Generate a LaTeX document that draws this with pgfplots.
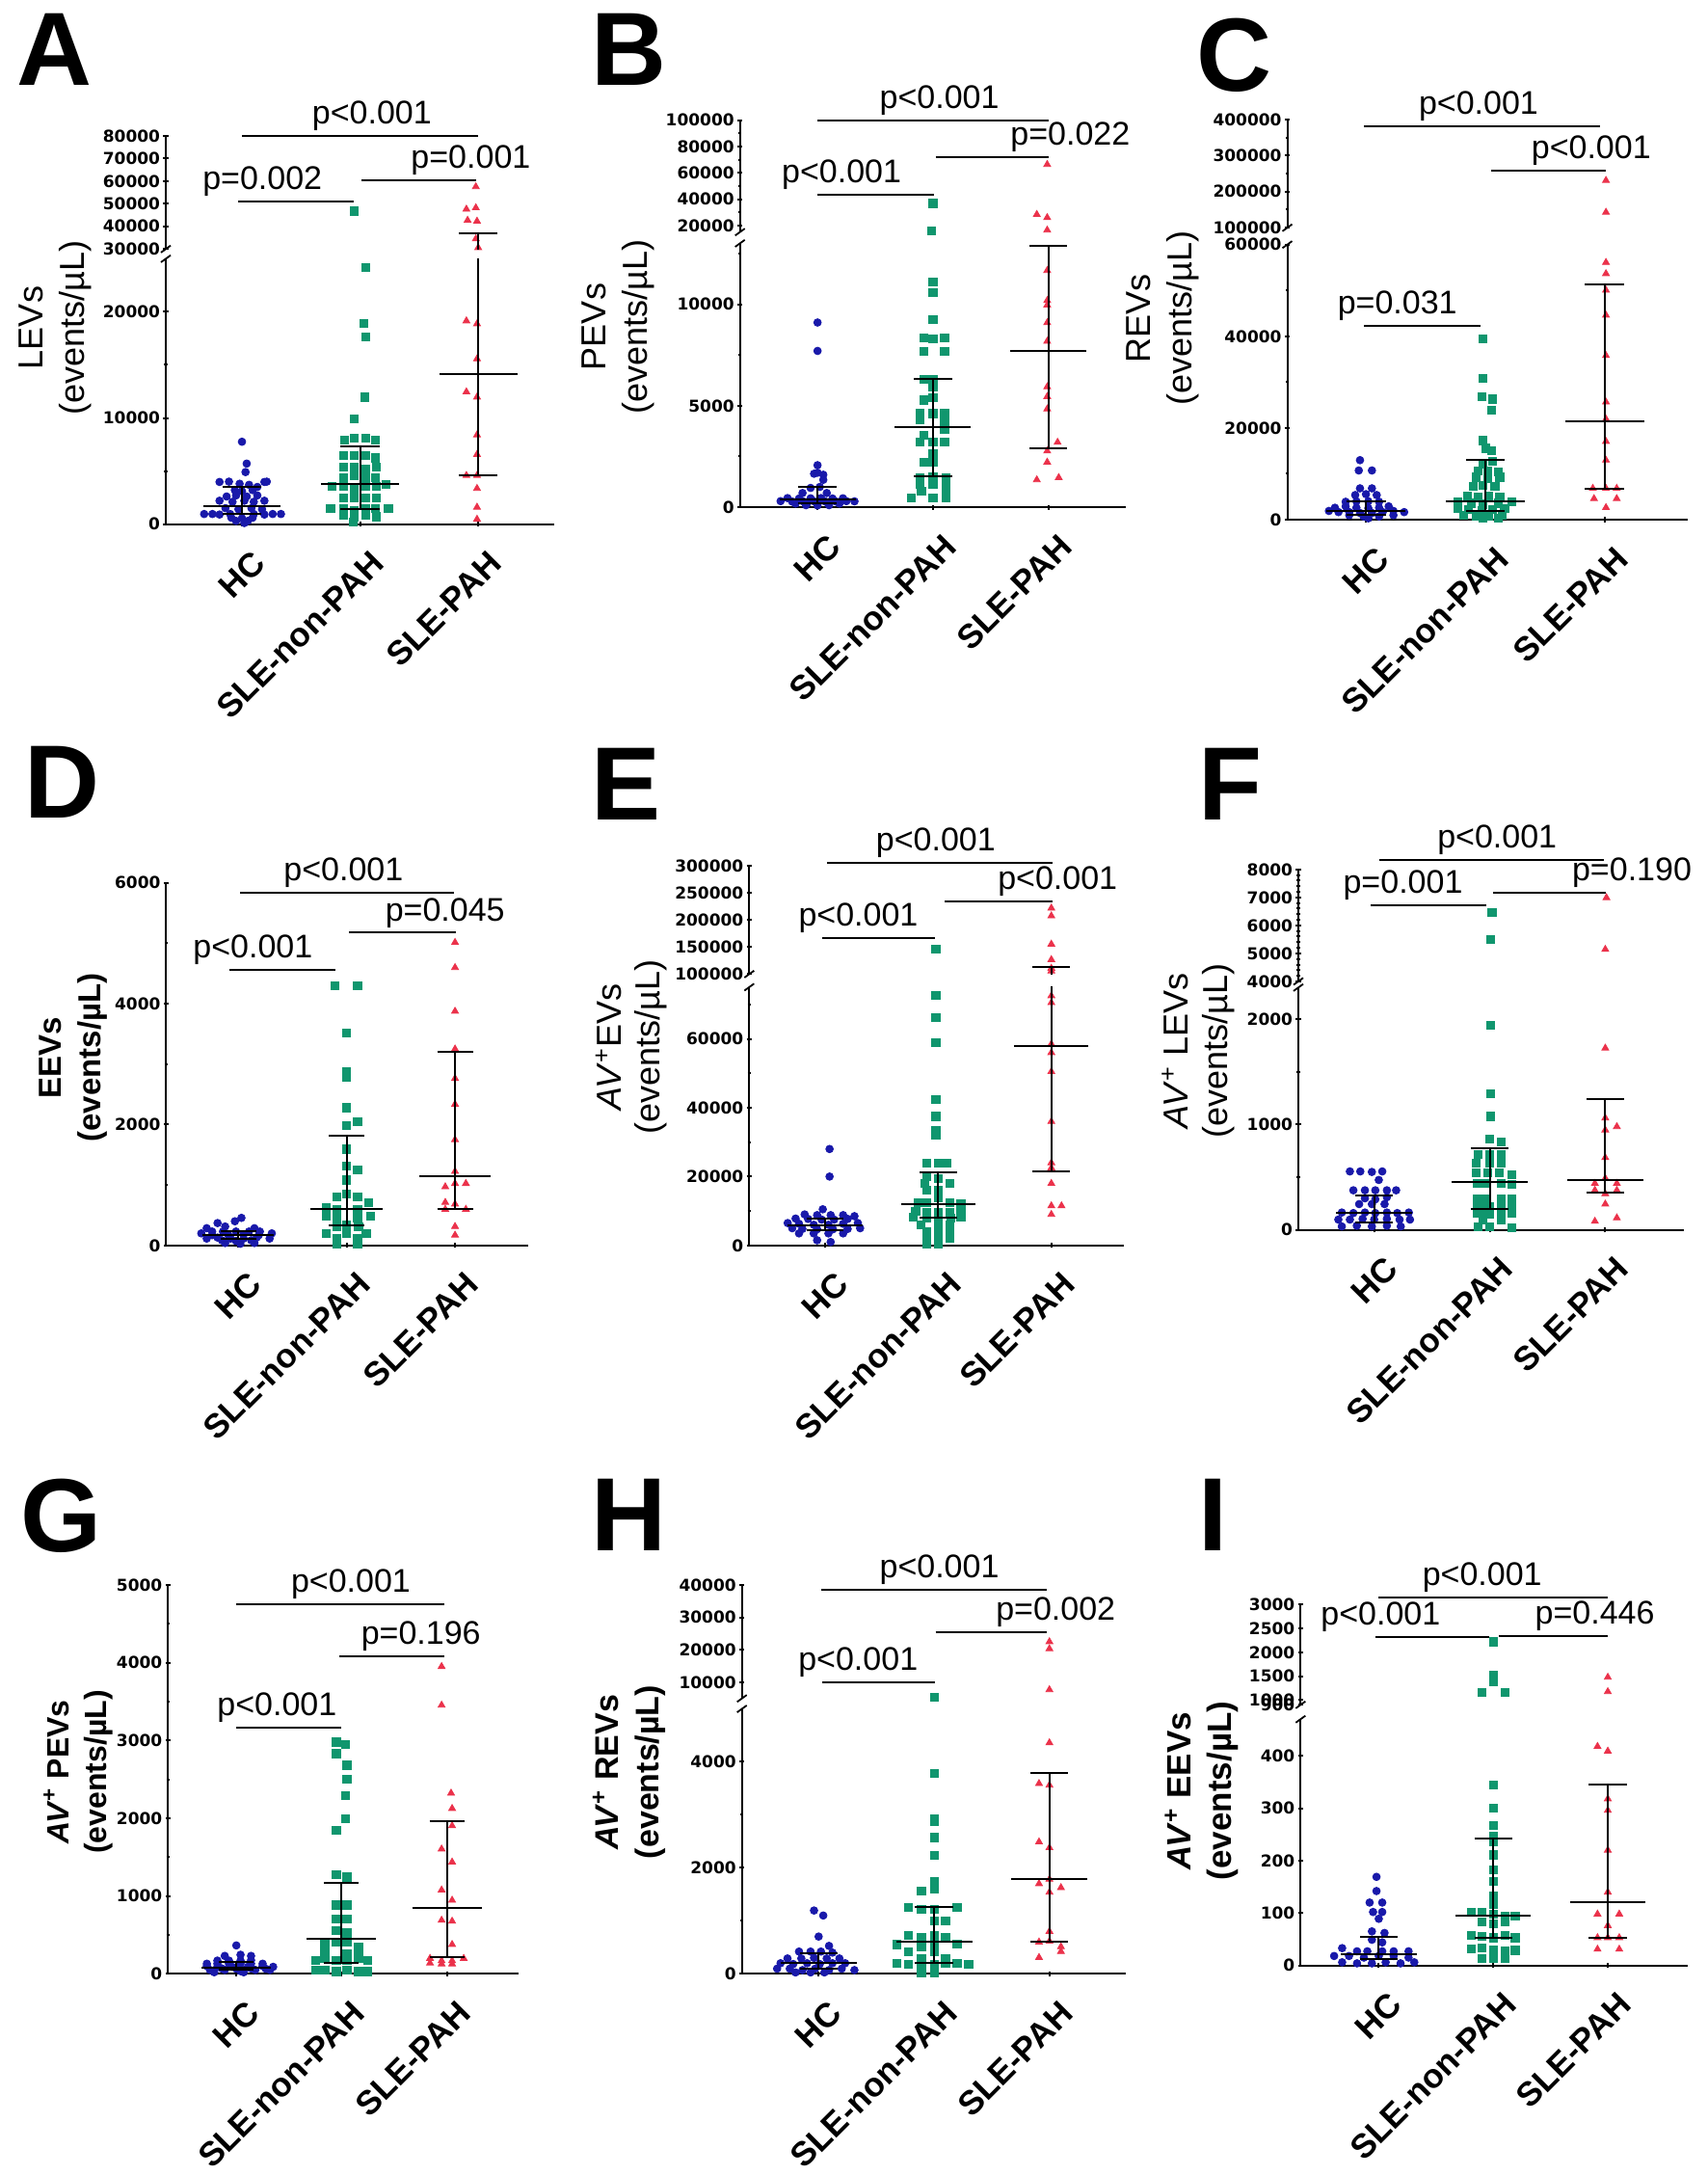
\documentclass[border=0pt]{standalone}
\usepackage{fontspec}
\setmainfont{Liberation Sans}
\newfontfamily\dvs{DejaVu Sans}
\usepackage{pgfplots}
\usepackage{pgfplotstable}
\pgfplotsset{compat=1.18}
\definecolor{hcb}{RGB}{25,25,170}
\definecolor{ngr}{RGB}{16,150,110}
\definecolor{pred}{RGB}{235,50,75}
\newcommand\tickf{\dvs\bfseries\fontsize{8.5}{9}\selectfont}
\newcommand\pf{\fontsize{17}{19}\selectfont}
\newcommand\xlf{\bfseries\fontsize{17.5}{18}\selectfont}
\newcommand\letf{\bfseries\fontsize{54}{54}\selectfont}
\pgfplotsset{
 noarrows/.style={axis line style={-}, x axis line style={-}, y axis line style={-},
  every outer x axis line/.append style={-}, every outer y axis line/.append style={-},
  every inner x axis line/.append style={-}, every inner y axis line/.append style={-}},
 base/.style={scale only axis, clip mode=individual,
  tick style={line width=1pt, black}, tick align=outside, major tick length=2.6pt, minor tick length=1.6pt,
  yticklabel style={font=\tickf, inner sep=1.5pt}, scaled y ticks=false, axis y line=left},
 low/.style={base, axis x line=bottom, xtick={0,1,2}, xticklabels={HC,SLE-non-PAH,SLE-PAH},
  xticklabel style={font=\xlf, xshift=4.5pt, yshift=-10pt, rotate=45, anchor=north east, inner sep=1pt}, noarrows, axis line style={line width=1pt}},
 up/.style={base, axis x line=none, xtick=\empty, noarrows, axis line style={line width=1pt}},
 hc/.style={only marks, mark=*, mark size=1.95pt, color=hcb},
 np/.style={only marks, mark=square*, mark size=2.05pt, color=ngr},
 ph/.style={only marks, mark=triangle*, mark size=2.05pt, color=pred},
 st/.style={black, line width=1pt, no marks},
}
\newcommand\stat[5]{%
\pgfmathsetmacro\sA{#1-#2}\pgfmathsetmacro\sB{#1+#2}%
\pgfmathsetmacro\sC{#1-#2/2}\pgfmathsetmacro\sD{#1+#2/2}%
\addplot[st] coordinates {(\sA,#4) (\sB,#4)};
\addplot[st] coordinates {(\sC,#3) (\sD,#3)};
\addplot[st] coordinates {(\sC,#5) (\sD,#5)};
\addplot[st] coordinates {(#1,#3) (#1,#5)};
}
\newcommand\sig[5]{\draw[line width=1pt] (#1,#3) -- (#2,#3); \node[font=\pf, anchor=south, inner sep=0pt, yshift=2.5pt] at (#4,#3) {#5};}
\newcommand\brk[3]{\draw[line width=0.9pt] (#1-2.5pt,#2-1.8pt) -- (#1+2.5pt,#2+1.8pt); \draw[line width=0.9pt] (#1-2.5pt,#3-1.8pt) -- (#1+2.5pt,#3+1.8pt);}
\newcommand\ylab[4]{\node[rotate=90, align=center, font=#3] at (#1,#2) {#4};}

\newcommand\statA{\stat{0}{0.33}{950}{1650}{3510}\stat{1}{0.33}{1435}{3790}{7330}\stat{2}{0.33}{4580}{14100}{36800}}
\newcommand\statB{\stat{0}{0.33}{200}{370}{1025}\stat{1}{0.33}{1526}{3924}{6300}\stat{2}{0.33}{2920}{7720}{12900}}
\newcommand\statC{\stat{0}{0.33}{975}{1950}{4100}\stat{1}{0.33}{1900}{3900}{12980}\stat{2}{0.33}{6830}{21460}{51220}}
\newcommand\statD{\stat{0}{0.33}{110}{175}{230}\stat{1}{0.33}{325}{610}{1823}\stat{2}{0.33}{598}{1140}{3208}}
\newcommand\statE{\stat{0}{0.33}{4500}{5700}{7700}\stat{1}{0.33}{8200}{12000}{21200}\stat{2}{0.33}{21500}{58000}{114000}}
\newcommand\statF{\stat{0}{0.33}{70}{160}{330}\stat{1}{0.33}{196}{458}{778}\stat{2}{0.33}{350}{474}{1242}}
\newcommand\statG{\stat{0}{0.33}{50}{80}{150}\stat{1}{0.33}{138}{449}{1174}\stat{2}{0.33}{210}{850}{1964}}
\newcommand\statH{\stat{0}{0.33}{97}{200}{380}\stat{1}{0.33}{202}{615}{1257}\stat{2}{0.33}{615}{1785}{3790}}
\newcommand\statI{\stat{0}{0.33}{13}{22}{55}\stat{1}{0.33}{52}{95}{243}\stat{2}{0.33}{52}{120}{346}}

\begin{document}
% ---------------- data ----------------
\pgfplotstableread{
x y
0.00 7760
0.04 5700
0.03 4900
-0.19 3970
-0.11 4000
0.19 3970
0.21 4000
-0.02 3800
0.06 3700
0.13 3500
-0.06 3200
0.00 3100
0.09 3200
-0.13 2600
-0.05 2700
0.04 2600
0.13 2700
-0.19 2200
-0.08 2100
0.02 2200
0.10 2100
0.19 2200
-0.14 1500
-0.03 1400
0.08 1500
0.17 1400
-0.32 950
-0.25 950
-0.19 900
-0.10 950
0.10 950
0.19 900
0.26 950
0.33 950
-0.09 600
0.00 550
0.09 600
-0.05 300
0.05 300
0.02 100
}\Ahc
\pgfplotstableread{
x y
0.95 46800
1.05 24170
1.03 18900
1.05 17650
1.04 11970
0.95 9920
0.87 7900
0.95 8100
1.05 8100
1.13 7900
0.86 6450
0.95 6450
1.05 6450
1.13 6250
0.86 5400
0.95 5400
1.05 5200
1.14 5400
0.86 4375
0.95 4580
1.05 4375
1.13 4375
0.76 3540
0.86 3540
0.95 3330
1.05 3540
1.14 3540
1.22 3750
0.86 2500
0.95 2500
1.05 2500
1.14 2500
0.75 1460
0.86 1460
0.95 1250
1.05 1460
1.13 1460
1.24 1460
0.86 830
0.95 625
1.05 830
1.14 700
0.94 200
}\Anp
\pgfplotstableread{
x y
1.98 57500
1.90 47600
1.98 48200
1.91 42700
1.99 42300
1.98 34500
2.00 30600
1.90 19150
1.99 18870
1.99 15570
1.90 12460
1.99 11970
1.99 8400
1.99 6560
1.90 4580
1.99 4580
1.99 3360
1.99 1590
1.99 460
}\Aph
\pgfplotstableread{
x y
0.00 9100
0.00 7700
0.00 2070
-0.03 1650
0.00 1700
0.05 1600
0.05 1350
-0.06 950
0.02 1000
-0.13 700
0.08 700
-0.26 450
-0.16 430
-0.06 440
0.03 450
0.13 430
0.22 440
-0.32 300
-0.22 280
-0.13 300
-0.03 290
0.06 300
0.16 280
0.25 300
0.32 290
-0.19 180
-0.09 200
0.00 190
0.09 200
0.19 180
-0.10 100
0.00 90
0.10 100
}\Bhc
\pgfplotstableread{
x y
1.00 36800
0.99 16000
1.00 11100
1.00 10560
1.00 9260
0.92 8330
1.00 8300
1.10 8330
0.92 7670
1.10 7670
0.92 6300
1.00 6300
1.00 5930
1.00 5390
0.92 5280
0.89 4620
1.00 4620
1.10 4620
0.89 4300
1.10 4300
0.92 3530
1.10 3860
0.89 3200
1.00 3200
1.10 3200
1.00 2660
0.92 2220
1.00 2220
0.89 1460
1.00 1500
1.11 1460
0.89 1130
1.00 1130
1.11 1130
0.90 800
1.11 800
0.81 480
1.00 480
1.11 480
}\Bnp
\pgfplotstableread{
x y
1.99 66400
1.90 28400
1.99 26000
1.99 16500
1.99 11660
1.99 10180
1.99 9960
1.99 9090
1.99 8175
1.99 5930
1.99 5450
1.99 4840
2.08 3200
1.99 2770
1.99 2220
1.90 1350
2.09 1460
}\Bph
\pgfplotstableread{
x y
-0.05 12980
-0.06 10730
0.05 10730
-0.05 6830
0.05 6830
-0.09 5370
0.00 5560
0.09 5370
-0.17 3900
-0.08 4000
0.02 4000
0.11 3900
-0.26 2600
-0.17 2900
-0.08 2600
0.02 2500
0.11 2600
0.19 2900
-0.31 1900
-0.23 1650
-0.14 1650
-0.05 1460
0.05 1460
0.14 1650
0.23 1900
0.32 1650
-0.14 975
-0.02 700
0.11 700
0.23 975
0.02 300
}\Chc
\pgfplotstableread{
x y
0.98 39500
0.98 30900
0.97 26800
1.06 26300
1.05 23900
0.98 17270
1.00 15600
1.05 15120
0.98 12200
1.06 12680
0.94 10700
1.02 10700
1.11 10440
0.92 9270
1.02 9070
1.12 9270
0.90 7300
0.98 7500
1.08 7300
0.85 5170
0.94 4880
1.03 5170
1.12 4880
0.77 3900
0.88 3600
0.98 3400
1.11 3600
1.22 3900
0.77 2440
0.86 2250
0.97 1950
1.06 2250
1.16 2440
0.82 975
0.92 700
1.03 700
1.14 975
0.98 300
1.11 300
}\Cnp
\pgfplotstableread{
x y
2.01 231000
2.01 142800
2.01 56100
2.01 53660
2.01 50050
2.01 44600
2.01 35800
2.01 25660
2.01 21950
2.01 17070
2.01 12980
1.90 6830
2.01 6830
2.10 6830
1.91 4590
2.10 4590
2.01 2630
}\Cph
\pgfplotstableread{
x y
0.03 456
-0.19 370
-0.03 400
-0.29 285
-0.12 313
0.15 285
-0.34 200
-0.24 230
-0.14 230
-0.02 230
0.10 230
0.20 230
0.31 200
-0.24 170
-0.09 170
0.05 185
0.19 170
-0.29 114
-0.19 130
-0.07 114
0.05 114
0.17 130
0.29 114
-0.15 85
-0.02 75
0.12 85
-0.12 40
0.02 28
0.15 40
}\Dhc
\pgfplotstableread{
x y
0.89 4300
1.10 4300
1.00 3515
1.00 2877
1.00 2790
1.00 2280
1.10 2050
1.00 1990
1.00 1595
1.00 1310
1.10 1254
1.00 1083
0.91 800
1.10 800
1.00 855
0.81 627
0.91 600
1.10 600
1.20 712
0.81 485
0.91 456
1.10 456
1.22 485
0.91 313
1.00 342
1.11 313
0.81 200
1.00 200
1.18 200
0.91 114
1.10 114
0.91 28
1.10 28
}\Dnp
\pgfplotstableread{
x y
2.00 5014
2.00 4598
2.00 3875
2.00 3250
2.00 2764
2.00 2336
2.00 1750
2.00 1225
1.91 970
2.00 1025
2.10 1025
1.91 712
2.00 684
1.91 598
2.10 598
2.00 313
2.00 170
}\Dph
\pgfplotstableread{
x y
0.04 28000
0.04 20000
-0.02 10500
-0.18 9000
-0.07 8800
0.05 8800
0.16 8800
0.26 8500
-0.26 7800
-0.15 7700
-0.03 7500
0.08 7500
0.20 7700
-0.33 6500
-0.23 6300
-0.10 6000
0.03 6000
0.16 6300
0.29 6500
-0.29 5000
-0.20 4800
-0.07 4700
0.07 4700
0.20 4800
0.31 5000
-0.23 3500
-0.10 3500
0.03 3500
0.16 3500
-0.07 1500
0.05 1000
}\Ehc
\pgfplotstableread{
x y
0.98 147000
0.98 72700
0.98 66300
0.98 59000
0.98 42500
0.98 37500
0.98 33500
0.98 32000
0.90 24000
1.00 24000
1.08 24000
0.90 20000
1.00 19500
0.88 18000
1.10 18000
0.90 16000
1.00 16000
1.00 14000
0.82 12500
0.90 12500
1.10 12500
1.20 12000
0.80 10000
0.90 9500
1.00 9500
1.10 9700
1.20 10000
0.78 8300
0.90 8000
1.00 8000
1.11 8000
1.20 8300
0.85 6000
1.00 5500
1.10 6000
0.90 4000
1.00 4000
1.10 4000
0.90 2000
1.00 1700
1.10 2000
0.90 500
1.00 300
}\Enp
\pgfplotstableread{
x y
2.00 222000
2.00 207700
2.00 155400
2.00 126800
2.00 110800
2.00 105700
2.00 72500
2.00 70500
2.00 58500
2.00 56000
2.00 50500
2.00 36000
2.00 24000
2.00 22500
2.00 18000
2.00 11500
2.09 11500
2.00 9000
}\Eph
\pgfplotstableread{
x y
-0.21 555
-0.12 555
-0.02 550
0.07 555
0.04 474
-0.18 376
-0.08 376
0.01 376
0.11 376
0.19 376
-0.08 300
0.01 290
0.11 310
-0.13 245
-0.02 245
0.09 245
-0.28 165
-0.18 160
-0.08 165
0.01 160
0.11 165
0.20 160
0.30 165
-0.31 98
-0.21 98
-0.10 105
0.00 98
0.11 105
0.22 98
0.31 98
-0.28 33
-0.15 40
-0.02 33
0.11 40
0.23 33
}\Fhc
\pgfplotstableread{
x y
1.02 6460
1.01 5510
1.01 1944
1.01 1290
1.01 1078
1.00 860
1.10 833
0.90 720
1.00 720
1.10 720
0.88 637
1.00 637
1.10 637
0.88 540
0.98 540
1.08 540
1.19 525
0.89 441
0.97 441
1.10 441
1.19 432
0.89 294
0.97 294
1.10 294
1.19 294
0.89 229
0.94 220
1.00 220
1.10 229
1.19 229
0.89 163
0.97 163
1.00 150
1.10 163
1.19 163
0.94 98
1.10 98
0.90 33
1.00 33
1.19 20
}\Fnp
\pgfplotstableread{
x y
2.01 6990
2.00 5144
2.00 1725
2.00 1062
2.00 948
2.10 980
2.00 686
1.91 441
2.00 490
2.10 441
1.91 376
2.00 343
2.10 376
2.00 245
1.91 82
2.10 114
}\Fph
\pgfplotstableread{
x y
0.00 365
-0.11 230
0.04 245
0.14 230
-0.18 170
-0.07 170
0.04 170
0.14 175
-0.28 130
-0.18 130
-0.07 130
0.04 130
0.14 130
0.25 130
-0.28 100
-0.18 90
-0.04 90
0.11 90
0.25 100
0.35 90
-0.14 70
0.00 65
0.14 70
0.28 65
-0.25 50
-0.11 50
0.04 35
0.18 50
0.32 50
-0.21 20
0.07 20
}\Ghc
\pgfplotstableread{
x y
0.95 2982
1.04 2952
0.95 2832
1.05 2683
1.05 2503
1.04 2293
1.04 1994
0.95 1844
0.95 1275
1.05 1245
0.95 886
1.05 886
0.95 707
1.05 707
0.95 557
1.05 527
0.84 377
0.95 407
1.05 407
1.16 347
0.84 287
1.05 257
1.16 287
0.75 168
0.84 198
0.95 168
1.05 168
1.16 198
1.25 168
0.75 48
0.84 48
0.95 30
1.05 48
1.16 30
1.25 30
}\Gnp
\pgfplotstableread{
x y
1.95 3952
1.95 3455
2.04 2323
2.05 2126
2.05 1904
1.95 1605
2.05 1437
1.95 1078
2.05 946
1.95 689
2.05 677
2.05 377
1.84 198
1.95 168
2.05 168
2.16 198
1.84 138
1.95 126
2.05 126
}\Gph
\pgfplotstableread{
x y
-0.04 1195
0.04 1100
0.00 703
0.09 527
-0.17 420
-0.07 420
0.02 420
0.12 400
-0.27 290
-0.15 290
-0.04 300
0.07 290
0.18 290
-0.33 200
-0.22 185
-0.10 200
0.01 185
0.12 200
0.23 200
-0.36 97
-0.25 97
-0.14 70
-0.03 97
0.09 70
0.20 97
0.31 70
-0.20 26
-0.07 26
0.05 26
}\Hhc
\pgfplotstableread{
x y
1.00 5500
1.00 3780
1.00 2927
1.00 2883
1.00 2575
1.00 2241
1.00 1740
0.89 1565
1.00 1608
0.78 1257
0.89 1213
1.00 1213
1.20 1257
1.00 993
1.10 993
0.78 730
0.89 686
1.00 730
1.10 686
0.68 554
0.89 510
1.00 554
1.20 570
0.78 422
1.00 422
0.89 290
1.10 290
0.68 200
0.78 180
0.89 200
1.00 180
1.10 200
1.20 200
1.30 180
0.89 26
1.00 26
}\Hnp
\pgfplotstableread{
x y
2.00 22500
2.00 20330
2.00 7700
2.00 4360
1.91 3590
2.00 3560
1.91 2490
2.00 2380
1.91 1700
2.00 1785
2.10 1626
2.00 1540
2.00 800
1.91 600
2.00 615
2.10 510
2.10 420
1.91 308
}\Hph
\pgfplotstableread{
x y
-0.02 169
-0.02 142
-0.08 120
0.03 120
-0.05 102
0.03 102
0.00 89
-0.06 65
0.05 62
-0.06 49
0.03 44
-0.32 33
-0.19 27
-0.10 27
0.03 27
0.13 27
0.26 27
-0.39 18
-0.26 18
-0.13 15
0.00 18
0.13 18
0.26 15
-0.32 6
-0.19 4
-0.06 4
0.06 6
0.19 4
0.31 6
}\Ihc
\pgfplotstableread{
x y
1.00 2220
1.00 1517
1.00 1390
0.90 1166
1.10 1166
1.00 344
1.00 300
1.00 267
1.00 246
1.00 236
1.00 211
1.00 182
1.00 160
1.00 133
1.00 116
0.81 102
0.90 102
1.00 98
1.10 95
1.19 95
0.90 83
1.00 80
1.10 83
0.81 58
0.90 56
1.00 53
1.10 58
1.19 53
0.81 31
0.90 33
1.00 29
1.10 27
1.19 29
0.90 13
1.00 13
1.10 13
}\Inp
\pgfplotstableread{
x y
2.00 1478
2.00 1176
1.91 418
2.00 409
2.00 318
2.00 296
2.00 220
2.00 140
1.91 98
2.10 98
2.00 76
1.91 53
2.00 53
2.10 53
1.91 31
2.10 31
}\Iph

\begin{tikzpicture}
\path[use as bounding box] (0,0) rectangle (886pt,-1128pt);

% ===== Panel A =====
\begin{axis}[low, at={(86pt,-271.8pt)}, anchor=south west, width=201.4pt, height=137.6pt,
 xmin=-0.645, xmax=2.642, ymin=0, ymax=25000, ytick={0,10000,20000}, yticklabels={0,10000,20000}, minor ytick={5000,15000}]
\addplot[hc, restrict y to domain=0:25000] table {\Ahc};
\addplot[np, restrict y to domain=0:25000] table {\Anp};
\addplot[ph, restrict y to domain=0:25000] table {\Aph};
\statA
\end{axis}
\begin{axis}[up, at={(86pt,-129.15pt)}, anchor=south west, width=201.4pt, height=58.75pt,
 xmin=-0.645, xmax=2.642, ymin=30000, ymax=80000, ytick={30000,40000,50000,60000,70000,80000}, yticklabels={30000,40000,50000,60000,70000,80000}]
\addplot[np, restrict y to domain=30000:80000] table {\Anp};
\addplot[ph, restrict y to domain=30000:80000] table {\Aph};
\statA
\sig{0}{2}{80000}{1.10}{p<0.001}
\sig{-0.03}{0.945}{51100}{0.173}{p=0.002}
\sig{1.008}{1.984}{60470}{1.937}{p=0.001}
\end{axis}

% ===== Panel B =====
\begin{axis}[low, at={(383.85pt,-263.05pt)}, anchor=south west, width=200.2pt, height=136.85pt,
 xmin=-0.672, xmax=2.672, ymin=0, ymax=13000, ytick={0,5000,10000}, yticklabels={0,5000,10000}, minor ytick={2500,7500,12500}]
\addplot[hc, restrict y to domain=0:13000] table {\Bhc};
\addplot[np, restrict y to domain=0:13000] table {\Bnp};
\addplot[ph, restrict y to domain=0:13000] table {\Bph};
\statB
\end{axis}
\begin{axis}[up, at={(383.85pt,-120.35pt)}, anchor=south west, width=200.2pt, height=57.95pt,
 xmin=-0.672, xmax=2.672, ymin=15000, ymax=100000, ytick={20000,40000,60000,80000,100000}, yticklabels={20000,40000,60000,80000,100000}, minor ytick={30000,50000,70000,90000}]
\addplot[np, restrict y to domain=15000:100000] table {\Bnp};
\addplot[ph, restrict y to domain=15000:100000] table {\Bph};
\statB
\sig{0}{2}{100000}{1.056}{p<0.001}
\sig{0}{1.008}{43520}{0.208}{p<0.001}
\sig{1.024}{2}{72080}{2.19}{p=0.022}
\end{axis}

% ===== Panel C =====
\begin{axis}[low, at={(667.75pt,-269.5pt)}, anchor=south west, width=207.5pt, height=142.65pt,
 xmin=-0.659, xmax=2.691, ymin=0, ymax=60000, ytick={0,20000,40000,60000}, yticklabels={0,20000,40000,60000}, minor ytick={10000,30000,50000}]
\addplot[hc, restrict y to domain=0:60000] table {\Chc};
\addplot[np, restrict y to domain=0:60000] table {\Cnp};
\addplot[ph, restrict y to domain=0:60000] table {\Cph};
\statC
\sig{-0.015}{0.958}{42240}{0.263}{p=0.031}
\end{axis}
\begin{axis}[up, at={(667.75pt,-118.1pt)}, anchor=south west, width=207.5pt, height=56.15pt,
 xmin=-0.659, xmax=2.691, ymin=100000, ymax=400000, ytick={100000,200000,300000,400000}, yticklabels={100000,200000,300000,400000}, minor ytick={150000,250000,350000}]
\addplot[ph, restrict y to domain=100000:400000] table {\Cph};
\statC
\sig{-0.015}{1.963}{381500}{0.943}{p<0.001}
\sig{1.051}{2.009}{259100}{1.886}{p<0.001}
\end{axis}

% ===== Panel D =====
\begin{axis}[low, at={(86.2pt,-645.9pt)}, anchor=south west, width=187.75pt, height=188.05pt,
 xmin=-0.664, xmax=2.674, ymin=0, ymax=6000, ytick={0,2000,4000,6000}, yticklabels={0,2000,4000,6000}, minor ytick={1000,3000,5000}]
\addplot[hc] table {\Dhc};
\addplot[np] table {\Dnp};
\addplot[ph] table {\Dph};
\statD
\sig{0.017}{1.993}{5840}{0.971}{p<0.001}
\sig{1.022}{2.01}{5174}{1.908}{p=0.045}
\sig{-0.085}{0.896}{4558}{0.136}{p<0.001}
\end{axis}

% ===== Panel E =====
\begin{axis}[low, at={(388.65pt,-645.9pt)}, anchor=south west, width=194.45pt, height=133.95pt,
 xmin=-0.67, xmax=2.643, ymin=0, ymax=75000, ytick={0,20000,40000,60000}, yticklabels={0,20000,40000,60000}, minor ytick={10000,30000,50000,70000}]
\addplot[hc, restrict y to domain=0:75000] table {\Ehc};
\addplot[np, restrict y to domain=0:75000] table {\Enp};
\addplot[ph, restrict y to domain=0:75000] table {\Eph};
\statE
\end{axis}
\begin{axis}[up, at={(388.65pt,-505.2pt)}, anchor=south west, width=194.45pt, height=56.1pt,
 xmin=-0.67, xmax=2.643, ymin=100000, ymax=300000, ytick={100000,150000,200000,250000,300000}, yticklabels={100000,150000,200000,250000,300000}]
\addplot[np, restrict y to domain=100000:300000] table {\Enp};
\addplot[ph, restrict y to domain=100000:300000] table {\Eph};
\statE
\sig{0.016}{2.007}{306400}{0.979}{p<0.001}
\sig{1.06}{2.007}{235000}{2.055}{p<0.001}
\sig{-0.026}{0.972}{166900}{0.294}{p<0.001}
\end{axis}

% ===== Panel F =====
\begin{axis}[low, at={(673.5pt,-637.85pt)}, anchor=south west, width=199.8pt, height=125.7pt,
 xmin=-0.656, xmax=2.677, ymin=0, ymax=2300, ytick={0,1000,2000}, yticklabels={0,1000,2000}, minor ytick={500,1500}]
\addplot[hc, restrict y to domain=0:2300] table {\Fhc};
\addplot[np, restrict y to domain=0:2300] table {\Fnp};
\addplot[ph, restrict y to domain=0:2300] table {\Fph};
\statF
\end{axis}
\begin{axis}[up, at={(673.5pt,-508.95pt)}, anchor=south west, width=199.8pt, height=58.05pt,
 xmin=-0.656, xmax=2.677, ymin=4000, ymax=8000, ytick={4000,5000,6000,7000,8000}, yticklabels={4000,5000,6000,7000,8000}, minor y tick num=4]
\addplot[np, restrict y to domain=4000:8000] table {\Fnp};
\addplot[ph, restrict y to domain=4000:8000] table {\Fph};
\statF
\sig{0.042}{1.99}{8342}{1.064}{p<0.001}
\sig{-0.032}{0.968}{6706}{0.249}{p=0.001}
\sig{1.032}{2.006}{7173}{2.23}{p=0.190}
\end{axis}

% ===== Panel G =====
\begin{axis}[low, at={(87.15pt,-1023.65pt)}, anchor=south west, width=182pt, height=201.65pt,
 xmin=-0.649, xmax=2.684, ymin=0, ymax=5000, ytick={0,1000,2000,3000,4000,5000}, yticklabels={0,1000,2000,3000,4000,5000}, minor y tick num=1]
\addplot[hc] table {\Ghc};
\addplot[np] table {\Gnp};
\addplot[ph] table {\Gph};
\statG
\sig{0}{1.98}{4748}{1.088}{p<0.001}
\sig{0.982}{1.98}{4078}{1.754}{p=0.196}
\sig{0}{1.0}{3168}{0.386}{p<0.001}
\end{axis}

% ===== Panel H =====
\begin{axis}[low, at={(384.85pt,-1023.65pt)}, anchor=south west, width=199.2pt, height=137.4pt,
 xmin=-0.665, xmax=2.663, ymin=0, ymax=5000, ytick={0,2000,4000}, yticklabels={0,2000,4000}, minor ytick={1000,3000}]
\addplot[hc, restrict y to domain=0:5000] table {\Hhc};
\addplot[np, restrict y to domain=0:5000] table {\Hnp};
\addplot[ph, restrict y to domain=0:5000] table {\Hph};
\statH
\end{axis}
\begin{axis}[up, at={(384.85pt,-880.85pt)}, anchor=south west, width=199.2pt, height=58.85pt,
 xmin=-0.665, xmax=2.663, ymin=5000, ymax=40000, ytick={10000,20000,30000,40000}, yticklabels={10000,20000,30000,40000}]
\addplot[np, restrict y to domain=5000:40000] table {\Hnp};
\addplot[ph, restrict y to domain=5000:40000] table {\Hph};
\statH
\sig{0.022}{1.974}{38560}{1.046}{p<0.001}
\sig{1.014}{1.974}{25350}{2.054}{p=0.002}
\sig{0.029}{1.008}{10000}{0.342}{p<0.001}
\end{axis}

% ===== Panel I =====
\begin{axis}[low, at={(674.65pt,-1019.3pt)}, anchor=south west, width=200.6pt, height=127.7pt,
 xmin=-0.683, xmax=2.694, ymin=0, ymax=470, ytick={0,100,200,300,400}, yticklabels={0,100,200,300,400}]
\addplot[hc, restrict y to domain=0:470] table {\Ihc};
\addplot[np, restrict y to domain=0:470] table {\Inp};
\addplot[ph, restrict y to domain=0:470] table {\Iph};
\statI
\end{axis}
\begin{axis}[up, at={(674.65pt,-884.15pt)}, anchor=south west, width=200.6pt, height=52pt,
 xmin=-0.683, xmax=2.694, ymin=900, ymax=3000, ytick={900,1000,1500,2000,2500,3000}, yticklabels={900,1000,1500,2000,2500,3000}]
\addplot[np, restrict y to domain=900:3000] table {\Inp};
\addplot[ph, restrict y to domain=900:3000] table {\Iph};
\statI
\sig{0}{2}{3147}{0.903}{p<0.001}
\sig{-0.032}{0.968}{2318}{0.016}{p<0.001}
\sig{1.048}{2}{2347}{1.887}{p=0.446}
\end{axis}

% ----- break marks -----
\brk{86pt}{-134.2pt}{-129.15pt}
\brk{383.85pt}{-126.2pt}{-120.35pt}
\brk{667.75pt}{-126.85pt}{-118.1pt}
\brk{388.65pt}{-511.95pt}{-505.2pt}
\brk{673.5pt}{-512.15pt}{-508.95pt}
\brk{384.85pt}{-886.25pt}{-880.85pt}
\brk{674.65pt}{-891.6pt}{-884.15pt}

% ----- y labels -----
\ylab{28.5pt}{-170pt}{\fontsize{18}{21.5}\selectfont}{LEVs\\(events/µL)}
\ylab{320.5pt}{-169.5pt}{\fontsize{18}{21.5}\selectfont}{PEVs\\(events/µL)}
\ylab{603pt}{-165pt}{\fontsize{18}{21.5}\selectfont}{REVs\\(events/µL)}
\ylab{38pt}{-548.5pt}{\bfseries\fontsize{16.5}{20.5}\selectfont}{EEVs\\(events/µL)}
\ylab{327.5pt}{-543pt}{\fontsize{18}{20}\selectfont}{\textit{AV}\textsuperscript{+}EVs\\(events/µL)}
\ylab{621.5pt}{-545pt}{\fontsize{18}{20.5}\selectfont}{\textit{AV}\textsuperscript{+} LEVs\\(events/µL)}
\ylab{40.5pt}{-919pt}{\bfseries\fontsize{16}{19.5}\selectfont}{\textit{AV}\textsuperscript{+} PEVs\\(events/µL)}
\ylab{326.3pt}{-919pt}{\bfseries\fontsize{17}{21}\selectfont}{\textit{AV}\textsuperscript{+} REVs\\(events/µL)}
\ylab{623.3pt}{-928.75pt}{\bfseries\fontsize{17.5}{21}\selectfont}{\textit{AV}\textsuperscript{+} EEVs\\(events/µL)}

% ----- panel letters -----
\node[anchor=north west, inner sep=0pt, font=\letf] at (8.6pt,-6.9pt) {A};
\node[anchor=north west, inner sep=0pt, font=\letf] at (306.3pt,-6.9pt) {B};
\node[anchor=north west, inner sep=0pt, font=\letf] at (620.45pt,-9.15pt) {C};
\node[anchor=north west, inner sep=0pt, font=\letf] at (12.45pt,-386.95pt) {D};
\node[anchor=north west, inner sep=0pt, font=\letf] at (306.3pt,-387.85pt) {E};
\node[anchor=north west, inner sep=0pt, font=\letf] at (621.4pt,-387.85pt) {F};
\node[anchor=north west, inner sep=0pt, font=\letf] at (10.55pt,-766.9pt) {G};
\node[anchor=north west, inner sep=0pt, font=\letf] at (306.3pt,-766.9pt) {H};
\node[anchor=north west, inner sep=0pt, font=\letf] at (621.4pt,-766.9pt) {I};
\end{tikzpicture}
\end{document}
